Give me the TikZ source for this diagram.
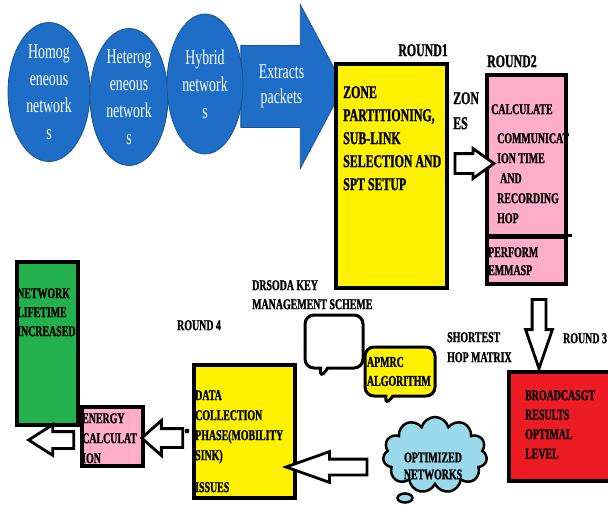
\documentclass[tikz,border=0pt]{standalone}
\usepackage{fontspec}
\setmainfont{Liberation Serif}[FakeStretch=0.66, BoldFont={Liberation Serif Bold}, BoldFeatures={FakeBold=1.2}]
\usetikzlibrary{shapes.geometric,shapes.arrows,shapes.symbols,shapes.callouts,calc}
\definecolor{netblue}{RGB}{30,110,200}
\definecolor{netedge}{RGB}{22,82,150}
\definecolor{boxyellow}{RGB}{255,242,0}
\definecolor{boxpink}{RGB}{255,174,201}
\definecolor{boxred}{RGB}{237,28,36}
\definecolor{boxgreen}{RGB}{34,177,76}
\definecolor{cloudblue}{RGB}{153,217,234}

\begin{document}
\begin{tikzpicture}[x=1pt, y=-1pt,
  net/.style={ellipse, fill=netblue, draw=netedge, line width=0.8pt, text=white, align=center, inner sep=-8pt, font=\fontsize{21}{27}\selectfont},
  box/.style={draw, rectangle, line width=3.5pt, inner sep=0pt},
  txt/.style={anchor=north west, align=left, inner sep=0pt, font=\bfseries\fontsize{15}{20}\selectfont},
  bigtxt/.style={txt, font=\bfseries\fontsize{18}{23}\selectfont},
  hollow/.style={single arrow, draw, line width=2.8pt, fill=white, single arrow head indent=0pt, inner xsep=0pt},
  bubble/.style={rectangle callout, draw, line width=3pt, rounded corners=9pt, inner sep=0pt, align=left, font=\bfseries\fontsize{15}{19}\selectfont}
]
\useasboundingbox (0,0) rectangle (608,504);

% input networks
\node[single arrow, fill=netblue, draw=netedge, line width=0.8pt, inner ysep=40.5pt, inner xsep=0pt,
  single arrow head extend=41pt, single arrow tip angle=124, single arrow head indent=0pt,
  minimum height=103pt, label={[text=white, align=center, font=\fontsize{21}{25}\selectfont]center:Extracts\\packets}] (extract) at (281.5,86.5) {};
\node[net, minimum width=82pt, minimum height=139pt] (homo) at (49,92) {Homog\\eneous\\network\\s};
\node[net, minimum width=78pt, minimum height=137pt] (hetero) at (129,97) {Heterog\\eneous\\network\\s};
\node[net, minimum width=76pt, minimum height=140pt] (hybrid) at (205,84) {Hybrid\\network\\s};

% round 1
\node[box, fill=boxyellow, minimum width=111pt, minimum height=224pt] (zone) at (391.5,176) {};
\node[bigtxt] (zonetxt) at (343,86) {ZONE\\PARTITIONING,\\SUB-LINK\\SELECTION AND\\SPT SETUP};
\node[bigtxt, anchor=north east] (round1) at (448,44) {ROUND1};
\node[bigtxt, font=\bfseries\fontsize{18}{25}\selectfont] (zones) at (453,92) {ZON\\ES};

% round 2
\node[box, fill=boxpink, minimum width=79pt, minimum height=162pt] (calc) at (526.5,156) {};
\node[box, fill=boxpink, minimum width=79pt, minimum height=47pt] (perform) at (526.5,260.5) {};
\draw[line width=3.5pt] (perform.north west) -- ($(perform.north east)+(4,0)$);
\node[bigtxt] (round2) at (487,55) {ROUND2};
\node[txt] (calctxt) at (491,104) {CALCULATE};
\node[txt] (commtxt) at (497,133) {COMMUNICAT\\ION TIME\\\hspace{3pt}AND\\RECORDING\\HOP};
\node[txt, font=\bfseries\fontsize{15}{18}\selectfont] (perftxt) at (488,247) {PERFORM\\EMMASP};

\node[hollow, inner ysep=8.5pt, single arrow head extend=5pt, single arrow tip angle=71, minimum height=39pt]
  (zonearr) at ($(zone.east)!.5!(calc.west)+(0.5,-2.5)$) {};

% round 3
\node[box, fill=boxred, minimum width=103pt, minimum height=109pt] (bcast) at (560.5,426.5) {};
\node[txt, font=\bfseries\fontsize{15}{19.5}\selectfont] (bcasttxt) at (525,390) {BROADCASGT\\RESULTS\\OPTIMAL\\LEVEL};
\node[hollow, rotate=-90, inner ysep=5.5pt, single arrow head extend=6.5pt, single arrow tip angle=38, minimum height=69pt]
  (hoparr) at ($(perform.south)+(12.5,38.25)$) {};
\node[txt] (shortest) at (447,332) {SHORTEST\\HOP MATRIX};
\node[txt] (round3) at (563,333) {ROUND 3};

\node[cloud, cloud puffs=11, aspect=1.4, minimum width=104pt, minimum height=76pt, fill=cloudblue, draw, line width=2.5pt] (optim) at (435,455) {};
\node[ellipse, fill=cloudblue, draw, line width=2.5pt, minimum width=15pt, minimum height=9pt, inner sep=0pt] (optbub) at (405,498) {};
\node[txt, anchor=center, align=center, font=\bfseries\fontsize{15}{17}\selectfont] (optimtxt) at (433,466) {OPTIMIZED\\NETWORKS};

% round 4
\node[box, fill=boxyellow, minimum width=101pt, minimum height=133pt] (data) at (244.5,431.5) {};
\node[txt] (datatxt) at (195,390) {DATA\\COLLECTION\\PHASE(MOBILITY\\SINK)\\[12pt]ISSUES};
\node[txt] (round4) at (177,320) {ROUND 4};
\node[txt, font=\bfseries\fontsize{15}{19}\selectfont] (drsoda) at (252,280) {DRSODA KEY\\MANAGEMENT SCHEME};
\node[hollow, rotate=180, inner ysep=6.5pt, single arrow head extend=7.5pt, single arrow tip angle=39, minimum height=81pt]
  (optarr) at ($(data.east)+(41,35.5)$) {};

\node[bubble, fill=white, minimum width=58pt, minimum height=53pt, callout absolute pointer={(320,379)}] (keyb) at (334,341.5) {};
\node[bubble, fill=boxyellow, minimum width=70pt, minimum height=49pt, text width=66pt, callout absolute pointer={(385,406)}] (apmrc) at (400,371.5) {APMRC\\ALGORITHM};

% energy and lifetime
\node[box, fill=boxgreen, minimum width=61pt, minimum height=163pt] (life) at (47.5,343.5) {};
\node[txt, font=\bfseries\fontsize{15}{19}\selectfont] (lifetxt) at (17,288) {NETWORK\\LIFETIME\\INCREASED};
\node[box, fill=boxpink, minimum width=61pt, minimum height=59pt] (energy) at (112.5,436.5) {};
\node[txt] (energytxt) at (82,413) {ENERGY\\CALCULAT\\ION};

\node[hollow, rotate=180, inner ysep=8pt, single arrow head extend=8pt, single arrow tip angle=83, minimum height=41pt]
  (dataarr) at ($(data.west)!.5!(energy.east)+(-1,4)$) {};
\fill (187,431) circle (2.4);
\node[hollow, rotate=180, inner ysep=7pt, single arrow head extend=7pt, single arrow tip angle=65, minimum height=45pt]
  (lifearr) at ($(energy.west)+(-22.5,3.5)$) {};
\end{tikzpicture}
\end{document}
